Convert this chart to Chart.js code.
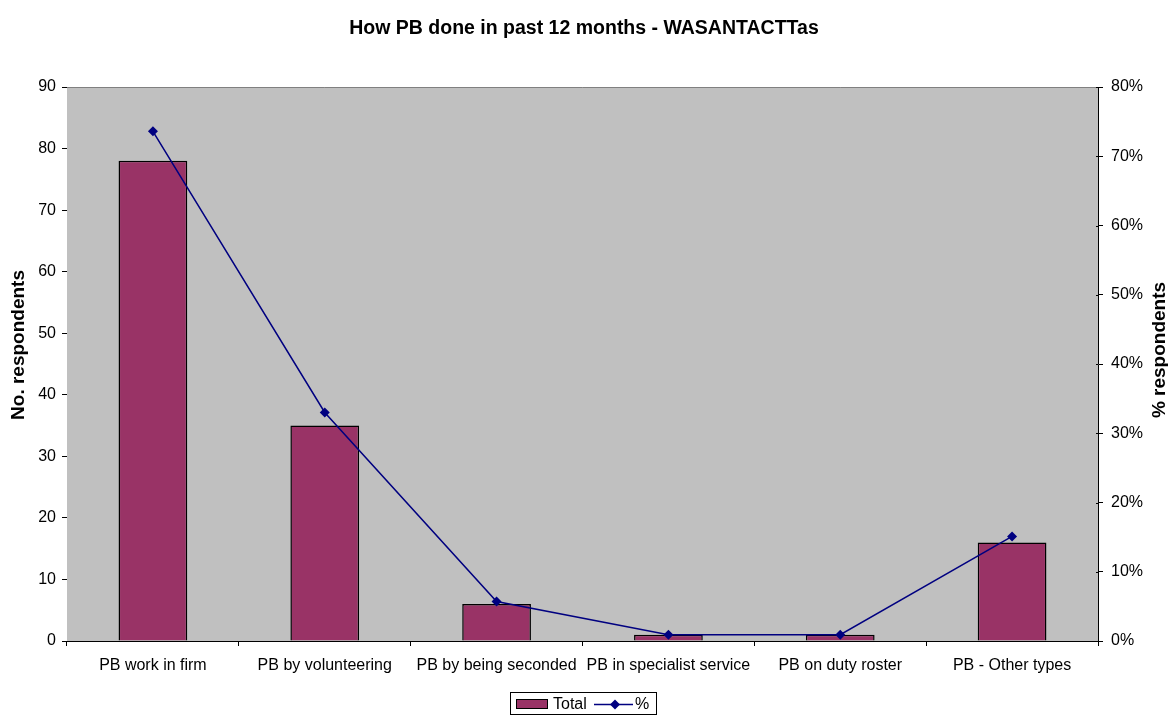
<!DOCTYPE html>
<html><head><meta charset="utf-8">
<script src="https://cdn.jsdelivr.net/npm/chart.js@4.4.1/dist/chart.umd.min.js"></script>
<style>html,body{margin:0;padding:0;background:#fff}#wrap{width:1168px;height:715px}</style>
</head><body><div id="wrap"><canvas id="c" width="1168" height="715"></canvas></div>
<script>
const categories = ["PB work in firm","PB by volunteering","PB by being seconded","PB in specialist service","PB on duty roster","PB - Other types"];
const totals = [78, 35, 6, 1, 1, 16];
const percents = [0.736, 0.330, 0.057, 0.009, 0.009, 0.151];
const leftTicks = [0,10,20,30,40,50,60,70,80,90];
const rightTicks = [0,0.1,0.2,0.3,0.4,0.5,0.6,0.7,0.8];

const FONT = "'Liberation Sans', Arial, sans-serif";

const deco = {
  id: 'deco',
  beforeDatasetsDraw(chart) {
    const {ctx, chartArea: a} = chart;
    ctx.save();
    ctx.fillStyle = '#C0C0C0';
    ctx.fillRect(a.left, a.top, a.right - a.left, a.bottom - a.top);
    ctx.strokeStyle = '#808080';
    ctx.lineWidth = 1;
    ctx.beginPath();
    ctx.moveTo(a.left, a.top + 0.5); ctx.lineTo(a.right, a.top + 0.5);
    ctx.stroke();
    const s = chart.scales.y2;
    ctx.strokeStyle = '#000';
    ctx.beginPath();
    s.ticks.forEach(t => { const y = Math.round(s.getPixelForValue(t.value)) + 0.5; ctx.moveTo(a.right - 2, y); ctx.lineTo(a.right, y); });
    ctx.stroke();
    ctx.restore();
  },
  afterDraw(chart) {
    const ctx = chart.ctx;
    ctx.save();
    ctx.fillStyle = '#000';
    ctx.font = "bold 19px " + FONT;
    ctx.textAlign = 'center';
    ctx.textBaseline = 'middle';
    ctx.save(); ctx.translate(19, 345); ctx.rotate(-Math.PI/2); ctx.fillText('No. respondents', 0, 0); ctx.restore();
    ctx.save(); ctx.translate(1160, 350); ctx.rotate(-Math.PI/2); ctx.fillText('% respondents', 0, 0); ctx.restore();
    ctx.strokeStyle = '#000'; ctx.lineWidth = 1;
    ctx.strokeRect(510.5, 692.5, 146, 22);
    ctx.fillStyle = '#993366';
    ctx.fillRect(516.5, 699.5, 31, 9);
    ctx.strokeRect(516.5, 699.5, 31, 9);
    ctx.fillStyle = '#000';
    ctx.font = "16px " + FONT;
    ctx.textAlign = 'left';
    ctx.fillText('Total', 553, 705);
    ctx.strokeStyle = '#000080';
    ctx.lineWidth = 1.5;
    ctx.beginPath(); ctx.moveTo(594, 704.5); ctx.lineTo(633, 704.5); ctx.stroke();
    ctx.fillStyle = '#000080';
    ctx.beginPath(); ctx.moveTo(615, 699.5); ctx.lineTo(620, 704.5); ctx.lineTo(615, 709.5); ctx.lineTo(610, 704.5); ctx.closePath(); ctx.fill();
    ctx.fillStyle = '#000';
    ctx.fillText('%', 635, 705);
    ctx.restore();
  }
};

new Chart(document.getElementById('c'), {
  data: {
    labels: categories,
    datasets: [
      { type: 'line', label: '%', data: percents, yAxisID: 'y2', borderColor: '#000080', backgroundColor: '#000080',
        borderWidth: 1.5, pointStyle: 'rectRot', pointRadius: 5, pointBorderWidth: 0, tension: 0, order: 0 },
      { type: 'bar', label: 'Total', data: totals, yAxisID: 'y', backgroundColor: '#993366', borderColor: '#000',
        borderWidth: 1.5, barPercentage: 0.4, categoryPercentage: 1, order: 1 }
    ]
  },
  options: {
    responsive: false,
    animation: false,
    layout: { padding: { top: 0, bottom: 34, left: 0, right: 0 } },
    plugins: {
      legend: { display: false },
      tooltip: { enabled: false },
      title: { display: true, text: 'How PB done in past 12 months - WASANTACTTas', color: '#000',
        font: { family: FONT, size: 19.5, weight: 'bold' }, padding: { top: 17, bottom: 46.6 } }
    },
    scales: {
      x: {
        grid: { drawOnChartArea: false, drawTicks: true, tickLength: 5, color: '#000', offset: true },
        border: { color: '#000', width: 1 },
        ticks: { color: '#000', font: { family: FONT, size: 16 }, padding: 10, autoSkip: false, maxRotation: 0, minRotation: 0 },
        afterFit(s) { s.height = 40; }
      },
      y: {
        position: 'left', min: 0, max: 90,
        afterBuildTicks(s) { s.ticks = leftTicks.map(v => ({ value: v })); },
        grid: { drawOnChartArea: false, drawTicks: true, tickLength: 5, color: '#000' },
        border: { color: '#000', width: 1 },
        ticks: { color: '#000', font: { family: FONT, size: 16 }, padding: 6 },
        afterFit(s) { s.width = 67; }
      },
      y2: {
        position: 'right', min: 0, max: 0.8,
        afterBuildTicks(s) { s.ticks = rightTicks.map(v => ({ value: v })); },
        grid: { drawOnChartArea: false, drawTicks: true, tickLength: 5, color: '#000' },
        border: { color: '#000', width: 1 },
        ticks: { color: '#000', font: { family: FONT, size: 16 }, padding: 8,
          callback: v => Math.round(v * 100) + '%' },
        afterFit(s) { s.width = 70; }
      }
    }
  },
  plugins: [deco]
});
</script>
</body></html>
